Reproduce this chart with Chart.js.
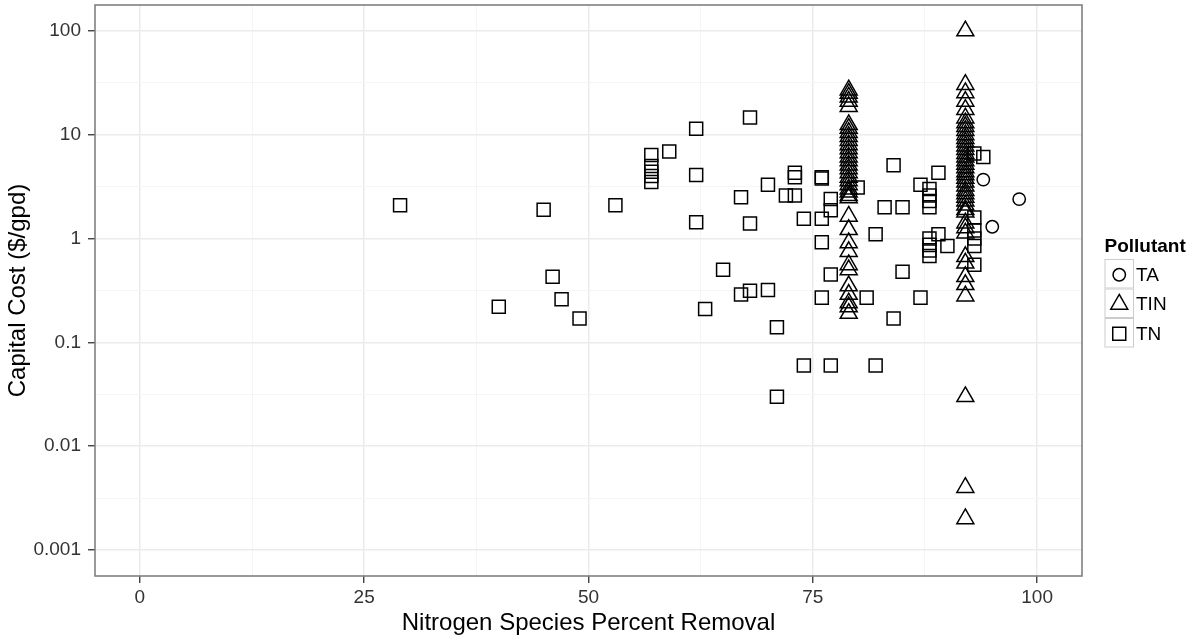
<!DOCTYPE html>
<html>
<head>
<meta charset="utf-8">
<title>Capital cost vs nitrogen removal</title>
<script src="https://cdn.jsdelivr.net/npm/chart.js"></script>
<style>
  html, body { margin: 0; padding: 0; background: #fff; }
  #wrap { width: 1196px; height: 641px; position: relative; }
</style>
</head>
<body>
<div id="wrap"><canvas id="myChart"></canvas></div>
<script>
// values
const taRemoval = [94, 95, 98];
const taCost = [3.7, 1.3, 2.4];

const tinColumns = [79, 92];
const tinCostAt79 = [27, 25, 23, 21, 18.7, 12.5, 11.5, 10.5, 9.6, 8.8, 8, 7.3, 6.7, 6.1,
    5.6, 5.1, 4.7, 4.3, 3.9, 3.6, 3.3, 3.0, 2.8, 2.6, 2.47, 1.64, 1.22, 0.91, 0.75,
    0.56, 0.5, 0.35, 0.29, 0.24, 0.22, 0.19];
const tinCostAt92 = [100, 30.5, 25.4, 21, 17.5, 14.5, 13, 12, 11, 10, 9.2, 8.5, 7.8, 7.2,
    6.6, 6.1, 5.6, 5.2, 4.8, 4.4, 4.1, 3.8, 3.5, 3.2, 2.9, 2.7, 2.5, 2.3, 2.1, 1.9, 1.8,
    1.41, 1.27, 1.13, 0.67, 0.58, 0.43, 0.36, 0.28, 0.03, 0.004, 0.002];

const tnRemoval = [29, 40, 45, 46, 47, 49, 53, 57, 57, 57, 57, 57, 59, 62, 62, 62, 63, 65,
    67, 67, 68, 68, 68, 70, 70, 71, 71, 72, 73, 73, 73, 74, 74, 76, 76, 76, 76, 76,
    77, 77, 77, 77, 80, 81, 82, 82, 83, 84, 84, 85, 85, 87, 87,
    88, 88, 88, 88, 88, 88, 88, 88, 89, 89, 90, 93, 93, 93, 93, 93, 93, 94];
const tnCost = [2.1, 0.22, 1.9, 0.43, 0.26, 0.17, 2.1, 6.4, 5.0, 4.4, 4.0, 3.5, 6.9, 11.4, 4.1, 1.44, 0.21, 0.5,
    2.5, 0.29, 14.7, 1.4, 0.315, 3.3, 0.32, 0.14, 0.03, 2.6, 4.3, 3.9, 2.6, 1.55, 0.06, 3.9, 3.8, 1.55, 0.92, 0.27,
    2.4, 1.87, 0.45, 0.06, 3.1, 0.27, 1.1, 0.06, 2.0, 5.1, 0.17, 2.0, 0.48, 3.3, 0.27,
    3.0, 2.6, 2.3, 2.0, 1.0, 0.87, 0.77, 0.68, 4.3, 1.1, 0.85, 6.6, 1.6, 1.2, 1.0, 0.85, 0.56, 6.1];

const seriesNames = ['TA', 'TIN', 'TN'];
const seriesShapes = ['circle', 'triangle', 'rect'];
const legendTitle = 'Pollutant';

const xTickValues = [0, 25, 50, 75, 100];
const xTickLabels = ['0', '25', '50', '75', '100'];
const xMinorValues = [12.5, 37.5, 62.5, 87.5];
const yTickValues = [0.001, 0.01, 0.1, 1, 10, 100];
const yTickLabels = ['0.001', '0.01', '0.1', '1', '10', '100'];
// minor grid halfway between decades (log space)
const yMinorValues = yTickValues.slice(1).map((v, i) => Math.sqrt(v * yTickValues[i]));

const xMin = -5, xMax = 105;
const yMin = Math.pow(10, -3.25), yMax = Math.pow(10, 2.25);

const FONT = '"Liberation Sans", Arial, Helvetica, sans-serif';

function toPoints(xs, ys) {
    return ys.map((y, i) => ({ x: xs[i], y: y }));
}

const tinPoints = []
    .concat(tinCostAt79.map(y => ({ x: tinColumns[0], y: y })))
    .concat(tinCostAt92.map(y => ({ x: tinColumns[1], y: y })));

function yIndex(value) {
    return yTickValues.findIndex(v => Math.abs(v - value) / v < 1e-6);
}

const pointRadius = { circle: 6.2, triangle: 9.8, rect: 9.2 };

function makeDataset(i, data) {
    return {
        label: seriesNames[i],
        data: data,
        pointStyle: seriesShapes[i],
        pointRadius: pointRadius[seriesShapes[i]],
        backgroundColor: 'rgba(0,0,0,0)',
        borderColor: '#000',
        borderWidth: 1.5,
        showLine: false
    };
}

const panelBorder = {
    id: 'panelBorder',
    afterDatasetsDraw(chart) {
        const a = chart.chartArea;
        const ctx = chart.ctx;
        ctx.save();
        ctx.strokeStyle = '#808080';
        ctx.lineWidth = 1.6;
        ctx.strokeRect(a.left, a.top, a.right - a.left, a.bottom - a.top);
        ctx.restore();
    }
};

const pollutantLegend = {
    id: 'pollutantLegend',
    afterDraw(chart) {
        const ctx = chart.ctx;
        const x0 = chart.chartArea.right + 22.5;
        const key = 29.5;
        ctx.save();
        ctx.fillStyle = '#000';
        ctx.font = 'bold 19px ' + FONT;
        ctx.textBaseline = 'alphabetic';
        ctx.textAlign = 'left';
        ctx.fillText(legendTitle, x0, 252);
        chart.data.datasets.forEach((ds, i) => {
            const top = 259 + i * key;
            ctx.fillStyle = '#fff';
            ctx.fillRect(x0, top, key, key);
            ctx.strokeStyle = '#cccccc';
            ctx.lineWidth = 1;
            ctx.strokeRect(x0 + 0.5, top + 0.5, key - 1, key - 1);
            ctx.fillStyle = 'rgba(0,0,0,0)';
            ctx.strokeStyle = '#000';
            ctx.lineWidth = ds.borderWidth;
            Chart.helpers.drawPoint(ctx, {
                pointStyle: ds.pointStyle,
                radius: ds.pointRadius,
                borderWidth: ds.borderWidth,
                rotation: 0
            }, x0 + key / 2, top + key / 2 + 1);
            ctx.fillStyle = '#000';
            ctx.font = '19px ' + FONT;
            ctx.textBaseline = 'middle';
            ctx.fillText(ds.label, x0 + key + 2, top + key / 2 + 2);
        });
        ctx.restore();
    }
};

const ctx = document.getElementById('myChart');
new Chart(ctx, {
    type: 'scatter',
    data: {
        datasets: [
            makeDataset(0, toPoints(taRemoval, taCost)),
            makeDataset(1, tinPoints),
            makeDataset(2, toPoints(tnRemoval, tnCost))
        ]
    },
    options: {
        responsive: true,
        maintainAspectRatio: false,
        animation: false,
        events: [],
        layout: {
            autoPadding: false,
            padding: { left: 0, top: 5, right: 114, bottom: 0 }
        },
        plugins: {
            legend: { display: false },
            tooltip: { enabled: false }
        },
        scales: {
            x: {
                type: 'linear',
                position: 'bottom',
                min: xMin,
                max: xMax,
                bounds: 'data',
                afterBuildTicks: scale => {
                    scale.ticks = xTickValues.concat(xMinorValues)
                        .sort((a, b) => a - b)
                        .map(v => ({ value: v }));
                },
                afterFit: scale => {
                    scale.height = 65;
                    scale.paddingLeft = 0;
                    scale.paddingRight = 0;
                },
                border: { display: false },
                grid: {
                    color: c => xTickValues.includes(c.tick.value) ? '#ebebeb' : '#f5f5f5',
                    lineWidth: c => xTickValues.includes(c.tick.value) ? 1.5 : 1,
                    tickColor: c => xTickValues.includes(c.tick.value) ? '#333' : 'rgba(0,0,0,0)',
                    tickWidth: 1.3,
                    tickLength: 7
                },
                ticks: {
                    autoSkip: false,
                    maxRotation: 0,
                    padding: 3.6,
                    color: '#333',
                    font: { family: FONT, size: 19 },
                    callback: value => {
                        const i = xTickValues.indexOf(value);
                        return i >= 0 ? xTickLabels[i] : '';
                    }
                },
                title: {
                    display: true,
                    text: 'Nitrogen Species Percent Removal',
                    color: '#000',
                    font: { family: FONT, size: 24, lineHeight: 1.2 },
                    padding: { top: 0, bottom: 3.6 }
                }
            },
            y: {
                type: 'logarithmic',
                position: 'left',
                min: yMin,
                max: yMax,
                bounds: 'data',
                afterBuildTicks: scale => {
                    scale.ticks = yTickValues.concat(yMinorValues)
                        .sort((a, b) => a - b)
                        .map(v => ({ value: v }));
                },
                afterFit: scale => {
                    scale.width = 95;
                    scale.paddingTop = 0;
                    scale.paddingBottom = 0;
                },
                border: { display: false },
                grid: {
                    color: c => yIndex(c.tick.value) >= 0 ? '#ebebeb' : '#f5f5f5',
                    lineWidth: c => yIndex(c.tick.value) >= 0 ? 1.5 : 1,
                    tickColor: c => yIndex(c.tick.value) >= 0 ? '#333' : 'rgba(0,0,0,0)',
                    tickWidth: 1.3,
                    tickLength: 7
                },
                ticks: {
                    autoSkip: false,
                    padding: 7,
                    color: '#333',
                    font: { family: FONT, size: 19 },
                    callback: value => {
                        const i = yIndex(value);
                        return i >= 0 ? yTickLabels[i] : '';
                    }
                },
                title: {
                    display: true,
                    text: 'Capital Cost ($/gpd)',
                    color: '#000',
                    font: { family: FONT, size: 24, lineHeight: 1.2 },
                    padding: { top: 3.6, bottom: 0 }
                }
            }
        }
    },
    plugins: [panelBorder, pollutantLegend]
});
</script>
</body>
</html>
